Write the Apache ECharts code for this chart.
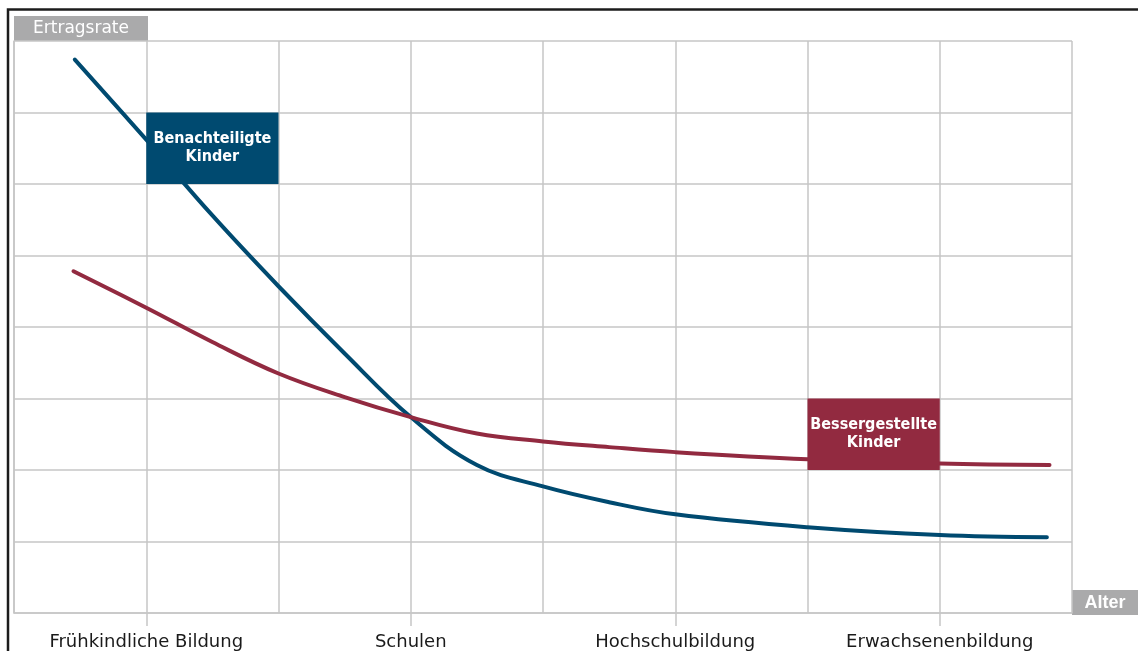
<!DOCTYPE html>
<html>
<head>
<meta charset="utf-8">
<script src="https://cdn.jsdelivr.net/npm/echarts@6/dist/echarts.min.js"></script>
<style>
  html, body { margin: 0; padding: 0; background: #ffffff; }
  #chart { width: 1138px; height: 651px; }
</style>
</head>
<body>
<div id="chart"></div>
<script>
// Stages of education on the horizontal axis (placed at the middle of each pair of grid cells)
const stageNames = ['Frühkindliche Bildung', 'Schulen', 'Hochschulbildung', 'Erwachsenenbildung'];
const stagePositions = [1, 3, 5, 7];

// Return rate curves: [age position, return rate]
const disadvantaged = [
  [0.46, 7.74], [1.0, 6.62], [1.5, 5.56], [2.0, 4.57], [2.5, 3.63], [3.0, 2.74],
  [3.5, 2.07], [4.0, 1.77], [4.5, 1.55], [5.0, 1.38], [6.0, 1.20], [7.0, 1.09], [7.81, 1.06]
];
const advantaged = [
  [0.45, 4.78], [1.0, 4.27], [1.5, 3.79], [2.0, 3.35], [2.5, 3.02], [3.0, 2.74],
  [3.5, 2.51], [4.0, 2.40], [4.5, 2.32], [5.0, 2.25], [6.0, 2.15], [7.0, 2.09], [7.83, 2.07]
];

// Callout boxes naming each curve: [x from, x to, y from, y to, text]
const callouts = [
  [1, 2, 6, 7, 'Benachteiligte\nKinder'],
  [6, 7, 2, 3, 'Bessergestellte\nKinder']
];

const blue = '#004a70';
const red = '#922a40';
const gridGray = '#c6c6c6';
const textFont = 'DejaVu Sans, Liberation Sans, sans-serif';

const chart = echarts.init(document.getElementById('chart'));

chart.setOption({
  animation: false,
  grid: { left: 14, right: 66, top: 41, bottom: 37 },
  xAxis: [
    {
      // stage labels and their tick marks
      type: 'value', min: 0, max: 8, interval: 1, position: 'bottom',
      axisLine: { show: true, lineStyle: { color: gridGray, width: 1.5 } },
      splitLine: { show: false },
      axisTick: {
        show: true, customValues: stagePositions, length: 13,
        lineStyle: { color: gridGray, width: 1.5 }
      },
      axisLabel: {
        show: true, customValues: stagePositions, margin: 20,
        color: '#1a1a1a', fontSize: 18, fontFamily: textFont,
        formatter: v => stageNames[stagePositions.indexOf(Math.round(v))] || ''
      }
    },
    {
      // full vertical grid
      type: 'value', min: 0, max: 8, interval: 1, position: 'top',
      axisLine: { show: false }, axisTick: { show: false }, axisLabel: { show: false },
      splitLine: { show: true, lineStyle: { color: gridGray, width: 1.5 } }
    }
  ],
  yAxis: {
    type: 'value', min: 0, max: 8, interval: 1,
    axisLine: { show: true, lineStyle: { color: gridGray, width: 1.5 } },
    axisTick: { show: false },
    axisLabel: { show: false },
    splitLine: { show: true, lineStyle: { color: gridGray, width: 1.5 } }
  },
  graphic: [
    // frame along top and left edges
    {
      type: 'polyline', z: 10,
      shape: { points: [[8, 651], [8, 9.5], [1138, 9.5]] },
      style: { stroke: '#1c1c1c', lineWidth: 2.5, fill: null }
    },
    // axis title tabs
    {
      type: 'group', left: 14, top: 16,
      children: [
        { type: 'rect', shape: { x: 0, y: 0, width: 134, height: 25 }, style: { fill: '#aaaaab' } },
        {
          type: 'text', x: 67, y: 13,
          style: {
            text: 'Ertragsrate', fill: '#ffffff', fontSize: 17, fontFamily: textFont,
            align: 'center', verticalAlign: 'middle'
          }
        }
      ]
    },
    {
      type: 'group', left: 1072, top: 590,
      children: [
        { type: 'rect', shape: { x: 0, y: 0, width: 66, height: 25 }, style: { fill: '#aaaaab' } },
        {
          type: 'text', x: 33, y: 13,
          style: {
            text: 'Alter', fill: '#ffffff', fontSize: 18, fontWeight: 'bold',
            fontFamily: 'Liberation Sans, Arial, sans-serif',
            align: 'center', verticalAlign: 'middle'
          }
        }
      ]
    }
  ],
  series: [
    {
      name: 'Benachteiligte Kinder', type: 'line', data: disadvantaged,
      smooth: 0.4, showSymbol: false, z: 3,
      lineStyle: { color: blue, width: 4, cap: 'round' }
    },
    {
      name: 'Bessergestellte Kinder', type: 'line', data: advantaged,
      smooth: 0.4, showSymbol: false, z: 3,
      lineStyle: { color: red, width: 4, cap: 'round' }
    },
    {
      type: 'custom', z: 5, data: callouts,
      renderItem: (params, api) => {
        const p0 = api.coord([api.value(0), api.value(3)]);
        const p1 = api.coord([api.value(1), api.value(2)]);
        const fill = params.dataIndex === 0 ? blue : red;
        return {
          type: 'group',
          children: [
            {
              type: 'rect',
              shape: { x: p0[0], y: p0[1], width: p1[0] - p0[0], height: p1[1] - p0[1] },
              style: { fill: fill }
            },
            {
              type: 'text',
              x: (p0[0] + p1[0]) / 2, y: (p0[1] + p1[1]) / 2,
              style: {
                text: callouts[params.dataIndex][4],
                fill: '#ffffff', fontSize: 16, fontWeight: 'bold', lineHeight: 18,
                fontFamily: 'Liberation Sans Narrow, DejaVu Sans Condensed, sans-serif',
                align: 'center', verticalAlign: 'middle'
              }
            }
          ]
        };
      }
    }
  ]
});
</script>
</body>
</html>
